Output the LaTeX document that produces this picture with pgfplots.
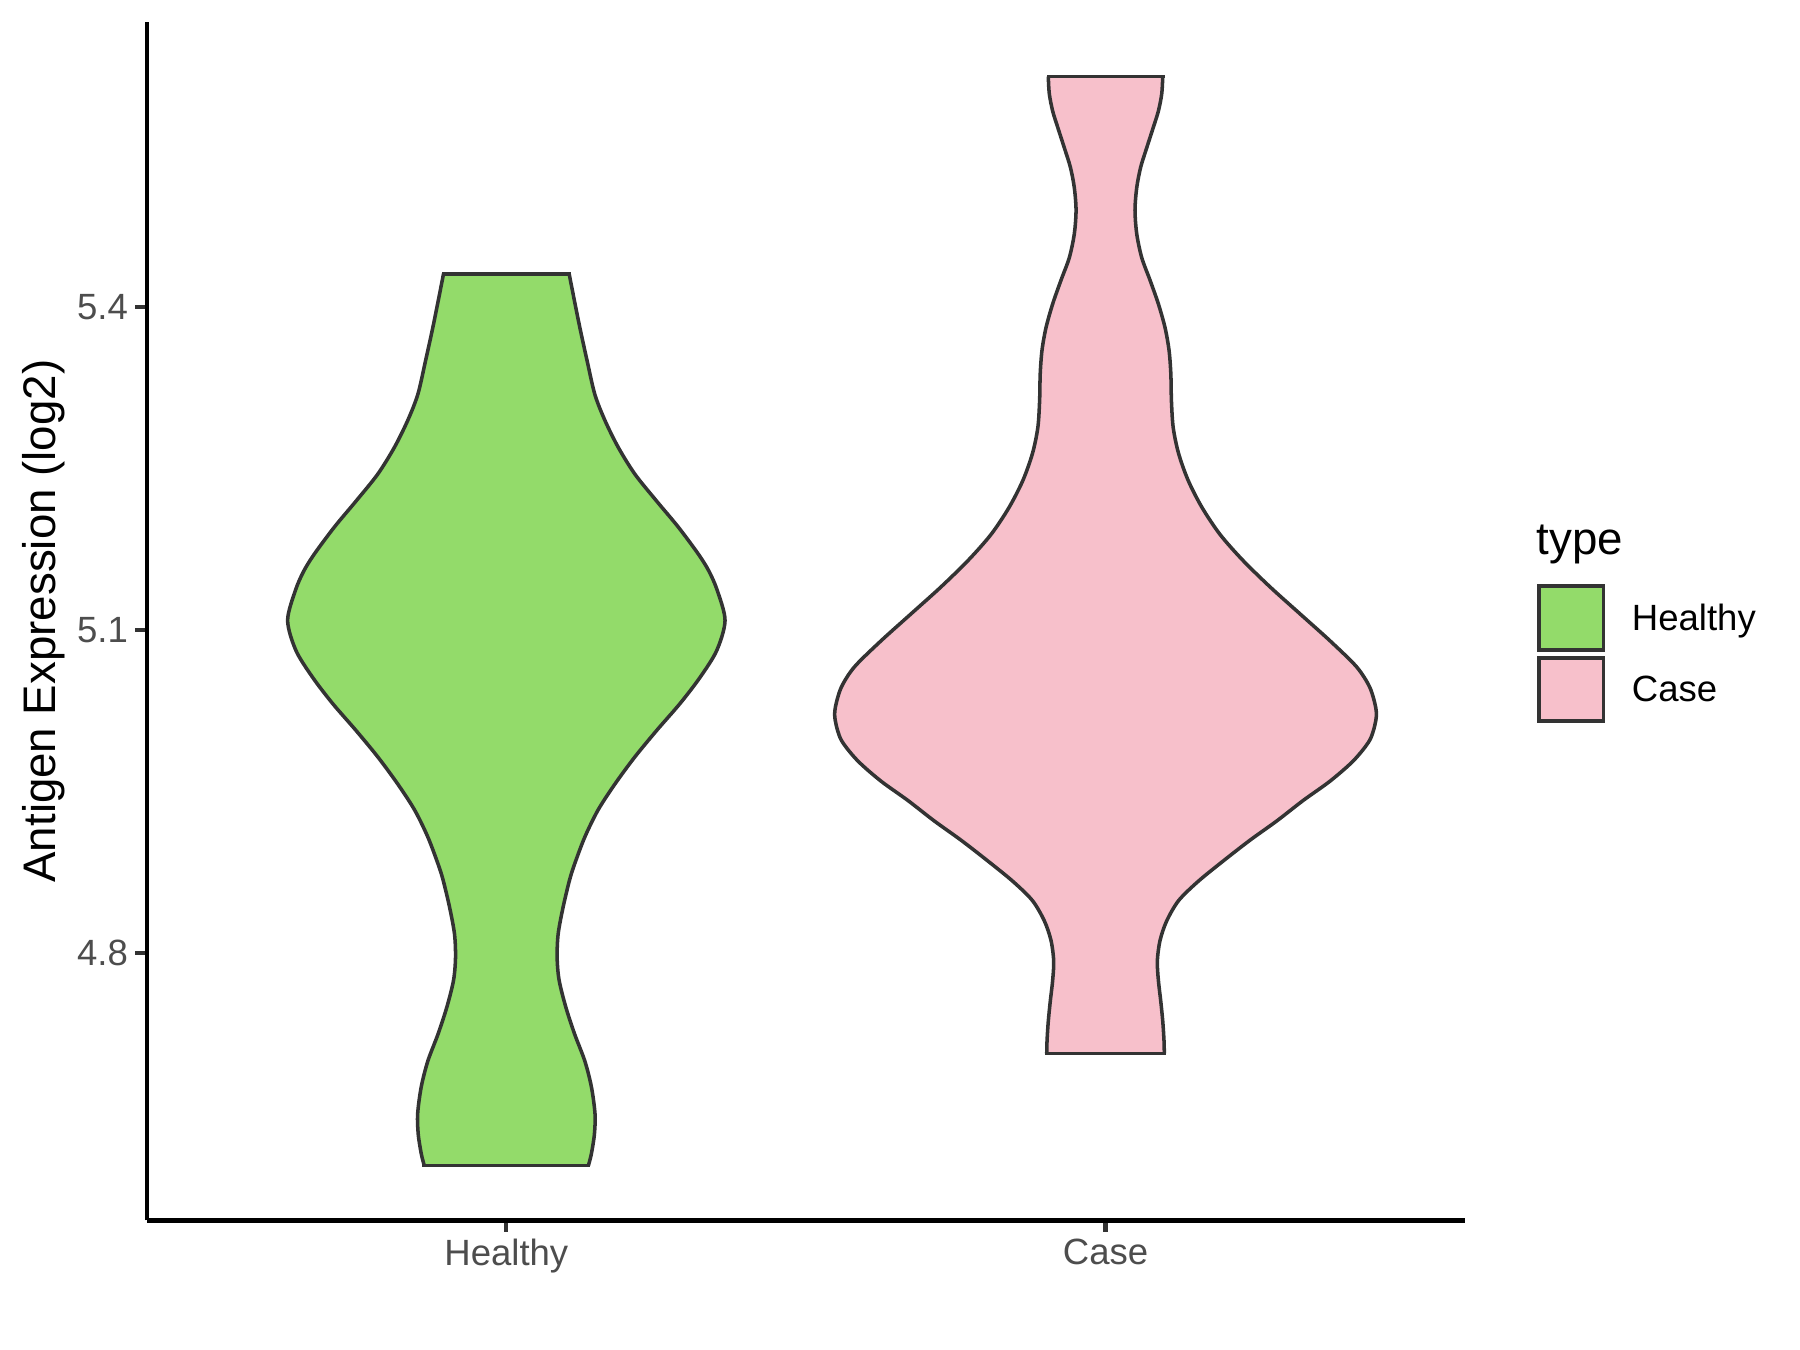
\documentclass[border=0pt]{standalone}
\usepackage{fontspec}
\setmainfont{Liberation Sans}
\usepackage{pgfplots}
\usepackage{pgfplotstable}
\pgfplotsset{compat=1.18}
\usepgfplotslibrary{fillbetween}
\definecolor{hgreen}{RGB}{147,219,106}
\definecolor{cpink}{RGB}{247,192,203}
\definecolor{gtwenty}{HTML}{333333}
\definecolor{gthirty}{HTML}{4D4D4D}

% violin outlines: y value and half-width
\pgfplotstableread{
y hw
5.431 0.1048
5.412 0.1115
5.381 0.1227
5.350 0.1349
5.319 0.1477
5.295 0.1644
5.270 0.1866
5.245 0.2145
5.220 0.2507
5.196 0.2867
5.171 0.3201
5.155 0.3380
5.137 0.3520
5.109 0.3650
5.081 0.3510
5.056 0.3230
5.032 0.2900
5.007 0.2510
4.982 0.2140
4.957 0.1810
4.933 0.1530
4.908 0.1310
4.883 0.1140
4.868 0.1055
4.843 0.0948
4.818 0.0865
4.796 0.0848
4.775 0.0881
4.750 0.0993
4.725 0.1140
4.700 0.1310
4.676 0.1420
4.651 0.1480
4.632 0.1470
4.614 0.1420
4.603 0.1370
}\healthydata

\pgfplotstableread{
y hw
5.614 0.0955
5.598 0.0938
5.582 0.0882
5.567 0.0798
5.548 0.0688
5.530 0.0587
5.511 0.0521
5.490 0.0492
5.468 0.0521
5.446 0.0604
5.425 0.0743
5.403 0.0882
5.381 0.0993
5.360 0.1060
5.338 0.1090
5.313 0.1100
5.288 0.1130
5.264 0.1220
5.239 0.1380
5.214 0.1610
5.189 0.1910
5.165 0.2290
5.140 0.2750
5.115 0.3250
5.090 0.3750
5.066 0.4190
5.047 0.4410
5.028 0.4510
5.016 0.4510
4.998 0.4410
4.979 0.4140
4.960 0.3750
4.942 0.3300
4.923 0.2860
4.905 0.2410
4.886 0.1970
4.867 0.1550
4.849 0.1220
4.830 0.1020
4.812 0.0910
4.793 0.0865
4.775 0.0882
4.756 0.0921
4.737 0.0955
4.719 0.0976
4.707 0.0981
}\casedata

\begin{document}
\begin{tikzpicture}
\begin{axis}[
  at={(1.243cm,1.097cm)}, anchor=south west,
  scale only axis, width=11.161cm, height=10.149cm,
  xmin=0.4, xmax=2.6, ymin=4.552, ymax=5.665,
  axis x line*=bottom, axis y line*=left,
  axis line style={black, line width=1pt},
  xtick={1,2}, xticklabels={Healthy,Case},
  ytick={4.8,5.1,5.4}, yticklabels={4.8,5.1,5.4},
  tick align=outside,
  major tick length=2.75pt,
  tick style={gtwenty, line width=1pt},
  ticklabel style={font=\fontsize{8.8}{10}\selectfont, text=gthirty, inner sep=0pt},
  yticklabel style={anchor=east, xshift=-1.6pt},
  xticklabel style={anchor=north, yshift=-1.6pt},
  ylabel={Antigen Expression (log2)},
  every axis y label/.style={at={(axis description cs:0,0.5)}, xshift=-0.769cm, anchor=base, rotate=90, font=\fontsize{11}{13}\selectfont, inner sep=0pt},
]
% Healthy
\addplot[draw=none, name path=HR, smooth] table[x expr=1+\thisrow{hw}, y=y] {\healthydata};
\addplot[draw=none, name path=HL, smooth] table[x expr=1-\thisrow{hw}, y=y] {\healthydata};
\addplot[fill=hgreen, draw=none] fill between[of=HR and HL, reverse=true];
\addplot[gtwenty, line width=0.85pt, smooth] table[x expr=1+\thisrow{hw}, y=y] {\healthydata};
\addplot[gtwenty, line width=0.85pt, smooth] table[x expr=1-\thisrow{hw}, y=y] {\healthydata};
\addplot[gtwenty, line width=0.85pt, line cap=rect] coordinates {(0.8952,5.431) (1.1048,5.431)};
\addplot[gtwenty, line width=0.85pt, line cap=rect] coordinates {(0.863,4.603) (1.137,4.603)};
% Case
\addplot[draw=none, name path=CR, smooth] table[x expr=2+\thisrow{hw}, y=y] {\casedata};
\addplot[draw=none, name path=CL, smooth] table[x expr=2-\thisrow{hw}, y=y] {\casedata};
\addplot[fill=cpink, draw=none] fill between[of=CR and CL, reverse=true];
\addplot[gtwenty, line width=0.85pt, smooth] table[x expr=2+\thisrow{hw}, y=y] {\casedata};
\addplot[gtwenty, line width=0.85pt, smooth] table[x expr=2-\thisrow{hw}, y=y] {\casedata};
\addplot[gtwenty, line width=0.85pt, line cap=rect] coordinates {(1.9045,5.614) (2.0955,5.614)};
\addplot[gtwenty, line width=0.85pt, line cap=rect] coordinates {(1.9019,4.707) (2.0981,4.707)};
\end{axis}
% legend
\node[anchor=base west, inner sep=0pt, font=\fontsize{11}{13}\selectfont] at (13.005,6.731) {type};
\filldraw[fill=hgreen, draw=gtwenty, line width=0.85pt] (13.032,5.928) rectangle (13.576,6.470);
\filldraw[fill=cpink, draw=gtwenty, line width=0.85pt] (13.032,5.325) rectangle (13.576,5.860);
\node[anchor=base west, inner sep=0pt, font=\fontsize{8.8}{10}\selectfont] at (13.81,6.090) {Healthy};
\node[anchor=base west, inner sep=0pt, font=\fontsize{8.8}{10}\selectfont] at (13.81,5.489) {Case};
\path (0,0) rectangle (15.24,11.43);
\end{tikzpicture}
\end{document}
